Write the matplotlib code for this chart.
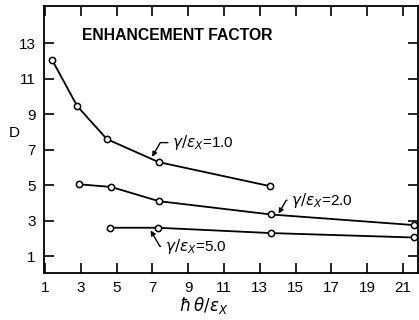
import matplotlib
matplotlib.use("Agg")
import matplotlib.pyplot as plt

plt.rcParams['font.family'] = ['Liberation Sans', 'DejaVu Sans']
plt.rcParams['mathtext.fontset'] = 'dejavusans'

# gamma/eps_x = 1.0
x1 = [1.4, 2.8, 4.45, 7.35, 13.55]
d1 = [12.05, 9.45, 7.6, 6.3, 4.95]
# gamma/eps_x = 2.0
x2 = [2.9, 4.7, 7.35, 13.6, 21.6]
d2 = [5.05, 4.9, 4.1, 3.35, 2.75]
# gamma/eps_x = 5.0
x3 = [4.65, 7.3, 13.6, 21.6]
d3 = [2.6, 2.6, 2.3, 2.05]

ticks = [1, 3, 5, 7, 9, 11, 13, 15, 17, 19, 21]
yticks = [1, 3, 5, 7, 9, 11, 13]

fig = plt.figure(figsize=(4.19, 3.2), dpi=100)
ax = fig.add_axes([0.105, 0.147, 0.893, 0.834])

for xs, ds in [(x1, d1), (x2, d2), (x3, d3)]:
    ax.plot(xs, ds, color='black', lw=1.3, marker='o', ms=4.5,
            mfc='white', mec='black', mew=1.1, zorder=3)

ax.set_xlim(0.94, 21.85)
ax.set_ylim(0.05, 15.1)
ax.set_xticks(ticks)
ax.set_yticks(yticks)
ax.tick_params(direction='in', length=7, width=1.2, labelsize=11,
               top=True, right=True, pad=6)
for s in ax.spines.values():
    s.set_linewidth(1.3)

fig.text(14 / 419, 1 - 133 / 320, 'D', fontsize=11, ha='center', va='center')
fig.text(204 / 419, 1 - 306 / 320, r'$\hbar\,\theta/\epsilon_X$', fontsize=12,
         ha='center', va='center')

ax.text(3.05, 13.45, 'ENHANCEMENT FACTOR', fontsize=11.3, fontweight='bold',
        va='center', ha='left')

lab = r'$\gamma/\epsilon_X$'
arrow = dict(arrowstyle='-|>', color='black', lw=1.0, mutation_scale=7,
             shrinkA=1, shrinkB=0,
             connectionstyle='angle,angleA=0,angleB=60,rad=0')
ax.annotate(lab + '=1.0', xy=(6.98, 6.6), xytext=(8.1, 7.4),
            fontsize=11, va='center', ha='left', arrowprops=arrow)
ax.annotate(lab + '=2.0', xy=(14.05, 3.4), xytext=(14.75, 4.15),
            fontsize=11, va='center', ha='left', arrowprops=arrow)
arrow3 = dict(arrowstyle='-|>', color='black', lw=1.0, mutation_scale=7,
              shrinkA=1, shrinkB=0,
              connectionstyle='angle,angleA=0,angleB=-60,rad=0')
ax.annotate(lab + '=5.0', xy=(6.9, 2.45), xytext=(7.7, 1.55),
            fontsize=11, va='center', ha='left', arrowprops=arrow3)

fig.savefig('out.png', dpi=100)
